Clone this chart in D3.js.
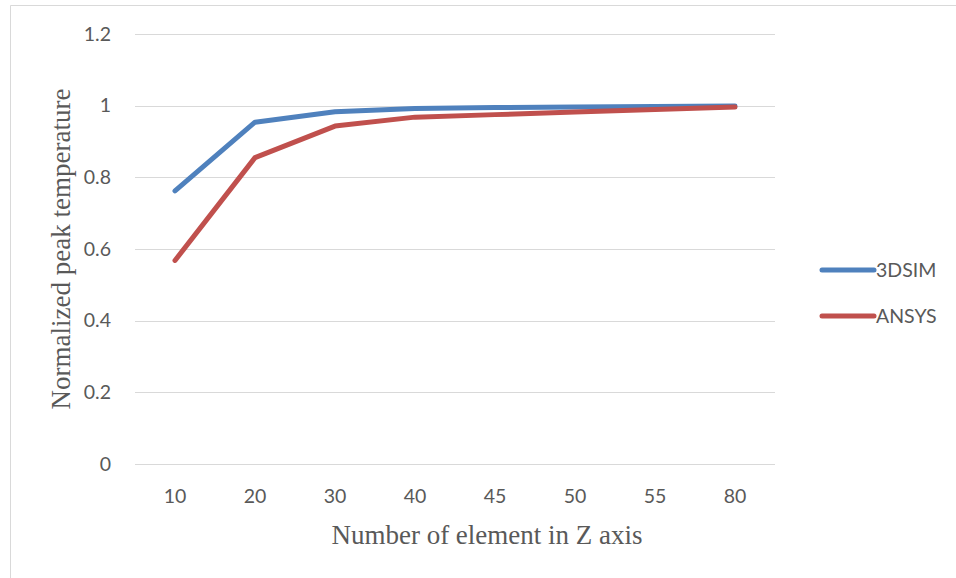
<!DOCTYPE html>
<html><head><meta charset="utf-8">
<script src="https://cdn.jsdelivr.net/npm/d3@7"></script>
<style>body{margin:0;background:#fff}svg{display:block}</style>
</head><body>
<svg id="c" width="956" height="578"></svg>
<script>
const categories = ["10","20","30","40","45","50","55","80"];
const sim3d = [0.762,0.954,0.983,0.992,0.995,0.996,0.998,0.999];
const ansys = [0.568,0.855,0.943,0.968,0.975,0.982,0.989,0.996];
const yTicks = [0,0.2,0.4,0.6,0.8,1,1.2];
const seriesNames = ["3DSIM","ANSYS"];
const colors = ["#4F81BD","#C0504D"];

const svg = d3.select("#c");
svg.append("path").attr("d","M10.5,578V5.5H956").attr("fill","none").attr("stroke","#d9d9d9").attr("stroke-width",1);

const x = d3.scaleBand().domain(categories).range([135,775]);
const y = d3.scaleLinear().domain([0,1.2]).range([464,34]);
const tickFont = "Lato, 'Open Sans', sans-serif";

svg.append("g").selectAll("line").data(yTicks).join("line")
  .attr("x1",135).attr("x2",775)
  .attr("y1",d=>Math.round(y(d))+0.5).attr("y2",d=>Math.round(y(d))+0.5)
  .attr("stroke","#d9d9d9").attr("stroke-width",1);

svg.append("g").selectAll("text").data(yTicks).join("text")
  .attr("x",111).attr("y",d=>y(d)).attr("dy","0.35em")
  .attr("text-anchor","end").attr("font-family",tickFont).attr("font-size",19.5).attr("fill","#595959")
  .text(d=>d3.format("~g")(d));

svg.append("g").selectAll("text").data(categories).join("text")
  .attr("x",d=>x(d)+x.bandwidth()/2).attr("y",496).attr("dy","0.35em")
  .attr("text-anchor","middle").attr("font-family",tickFont).attr("font-size",19.5).attr("fill","#595959")
  .text(d=>d);

const line = d3.line().x((d,i)=>x(categories[i])+x.bandwidth()/2).y(d=>y(d));
[sim3d,ansys].forEach((s,k)=>{
  svg.append("path").attr("d",line(s)).attr("fill","none").attr("stroke",colors[k])
    .attr("stroke-width",5).attr("stroke-linecap","round").attr("stroke-linejoin","round");
});

svg.append("text").attr("transform","translate(70,249) rotate(-90)").attr("text-anchor","middle")
  .attr("font-family","'Liberation Serif', 'Times New Roman', serif").attr("font-size",27).attr("fill","#595959")
  .text("Normalized peak  temperature");
svg.append("text").attr("x",487).attr("y",544).attr("text-anchor","middle")
  .attr("font-family","'Liberation Serif', 'Times New Roman', serif").attr("font-size",27).attr("fill","#595959")
  .text("Number of element in Z axis");

const legY = [270,316];
seriesNames.forEach((n,k)=>{
  svg.append("line").attr("x1",822).attr("x2",874).attr("y1",legY[k]).attr("y2",legY[k])
    .attr("stroke",colors[k]).attr("stroke-width",5).attr("stroke-linecap","round");
  svg.append("text").attr("x",876).attr("y",legY[k]).attr("dy","0.35em")
    .attr("font-family",tickFont).attr("font-size",19.5).attr("fill","#595959").text(n);
});
</script>
</body></html>
